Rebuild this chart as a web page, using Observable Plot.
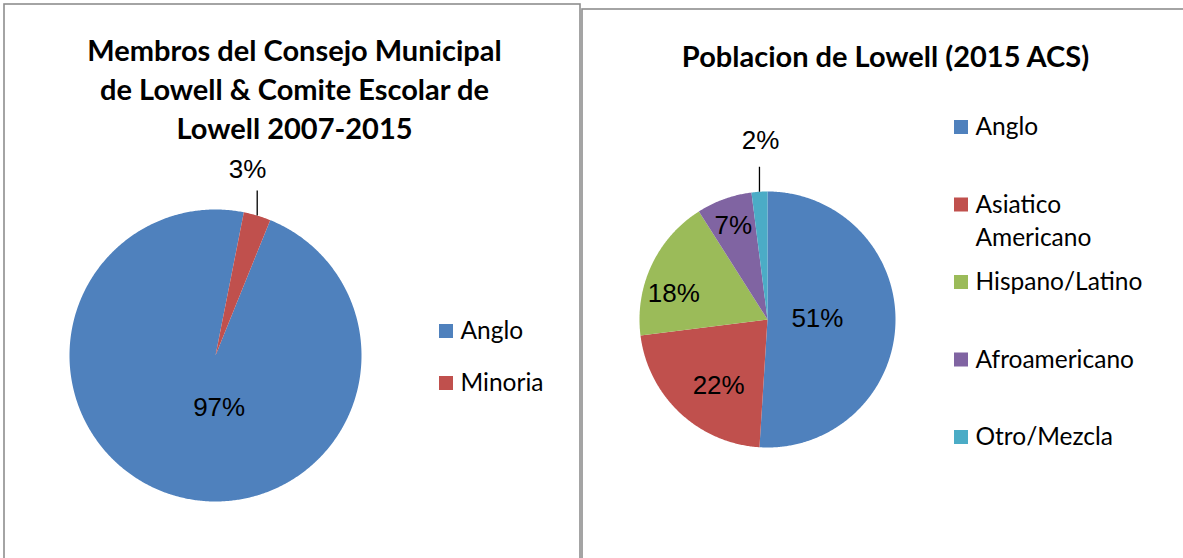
<!DOCTYPE html>
<html><head><meta charset="utf-8">
<script src="https://cdn.jsdelivr.net/npm/d3@7"></script>
<script src="https://cdn.jsdelivr.net/npm/@observablehq/plot@0.6"></script>
<style>html,body{margin:0;padding:0;background:#fff;overflow:hidden}</style>
</head><body><div id="chart"></div>
<script>
// ---- data ----
const councilTitle = ["Membros del Consejo Municipal", "de Lowell & Comite Escolar de", "Lowell 2007-2015"];
const councilCategories = ["Anglo", "Minoria"];
const councilValues = [97, 3];

const populationTitle = ["Poblacion de Lowell (2015 ACS)"];
const populationCategories = ["Anglo", "Asiatico Americano", "Hispano/Latino", "Afroamericano", "Otro/Mezcla"];
const populationLegendLabels = ["Anglo", "Asiatico\nAmericano", "Hispano/Latino", "Afroamericano", "Otro/Mezcla"];
const populationValues = [51, 22, 18, 7, 2];

// ---- styles / layout ----
const colorOf = {
  "Anglo": "#4F81BD", "Minoria": "#C0504D", "Asiatico Americano": "#C0504D",
  "Hispano/Latino": "#9BBB59", "Afroamericano": "#8064A2", "Otro/Mezcla": "#4BACC6"
};
const W = 1183, H = 558;
const titleFont = "Lato, 'Noto Sans', sans-serif";
const labelFont = "'Liberation Sans', Arial, sans-serif";
const legendSize = 24.5;

const panels = [
  {
    key: "council", cats: councilCategories, vals: councilValues, title: councilTitle,
    legendLabels: councilCategories,
    cx: 215, cy: 355, r: 146, startDeg: 22,
    labelPos: [[176, 0.36, false], [9.8, 1.29, true]],
    titleX: 294, titleY: 87, legendX: 439, legendY: 331, legendStep: 52,
    frame: {x1: 4, x2: 580, y1: 4, y2: 575}
  },
  {
    key: "population", cats: populationCategories, vals: populationValues, title: populationTitle,
    legendLabels: populationLegendLabels,
    cx: 767, cy: 319, r: 128, startDeg: 0,
    labelPos: [[89, 0.39, false], [216.6, 0.64, false], [285.5, 0.76, false], [340, 0.78, false], [357.8, 1.4, true]],
    titleX: 885, titleY: 54, legendX: 954, legendY: 127, legendStep: 77.5,
    frame: {x1: 582, x2: 1200, y1: 9, y2: 575}
  }
];

const rad = d => d * Math.PI / 180;
const slicePts = [], labels = [], leaders = [], legendSq = [], legendTxt = [], titles = [], frames = [];

for (const p of panels) {
  const arcs = d3.pie().sort(null).startAngle(rad(p.startDeg)).endAngle(rad(p.startDeg) + 2 * Math.PI)(p.vals);
  arcs.forEach((a, i) => {
    const id = p.key + i, cat = p.cats[i];
    slicePts.push({id, cat, x: p.cx, y: p.cy});
    const n = Math.max(4, Math.ceil((a.endAngle - a.startAngle) / rad(0.5)));
    for (let k = 0; k <= n; k++) {
      const t = a.startAngle + (a.endAngle - a.startAngle) * k / n;
      slicePts.push({id, cat, x: p.cx + p.r * Math.sin(t), y: p.cy - p.r * Math.cos(t)});
    }
    slicePts.push({id, cat, x: p.cx, y: p.cy});
    const [ang, rf, outside] = p.labelPos[i];
    labels.push({text: `${p.vals[i]}%`, x: p.cx + rf * p.r * Math.sin(rad(ang)), y: p.cy - rf * p.r * Math.cos(rad(ang))});
    if (outside) {
      const mid = (a.startAngle + a.endAngle) / 2;
      const ex = p.cx + p.r * Math.sin(mid), ey = p.cy - p.r * Math.cos(mid);
      leaders.push({x1: ex, y1: ey, x2: ex, y2: ey - 25});
    }
    legendSq.push({cat, x1: p.legendX, x2: p.legendX + 14, y1: p.legendY + i * p.legendStep - 7, y2: p.legendY + i * p.legendStep + 7});
    legendTxt.push({text: p.legendLabels[i], x: p.legendX + 21, y: p.legendY + i * p.legendStep});
  });
  titles.push({text: p.title.join("\n"), x: p.titleX, y: p.titleY});
  frames.push(p.frame);
}

const chart = Plot.plot({
  width: W, height: H, margin: 0,
  x: {domain: [0, W], range: [0, W], axis: null},
  y: {domain: [0, H], range: [0, H], axis: null},
  style: {background: "#fff"},
  marks: [
    Plot.rect(frames, {x1: "x1", x2: "x2", y1: "y1", y2: "y2", fill: "none", stroke: "#8e8e8e", strokeWidth: 1.6}),
    Plot.line(slicePts, {x: "x", y: "y", z: "id", fill: d => colorOf[d.cat], stroke: "none", curve: "linear"}),
    Plot.link(leaders, {x1: "x1", y1: "y1", x2: "x2", y2: "y2", stroke: "#000", strokeWidth: 1.3}),
    Plot.text(labels, {x: "x", y: "y", text: "text", fontFamily: labelFont, fontSize: 26, fill: "#000", textAnchor: "middle", lineAnchor: "middle"}),
    Plot.rect(legendSq, {x1: "x1", x2: "x2", y1: "y1", y2: "y2", fill: d => colorOf[d.cat]}),
    Plot.text(legendTxt, {x: "x", y: d => d.y - 0.39 * legendSize - 6, text: "text", fontFamily: titleFont, fontSize: legendSize, fill: "#000", textAnchor: "start", lineAnchor: "top", lineHeight: 1.35}),
    Plot.text(titles, {x: "x", y: "y", text: "text", fontFamily: titleFont, fontWeight: "bold", fontSize: 29, fill: "#000", textAnchor: "middle", lineAnchor: "middle", lineHeight: 1.345})
  ]
});
document.getElementById("chart").appendChild(chart);
</script>
</body></html>
